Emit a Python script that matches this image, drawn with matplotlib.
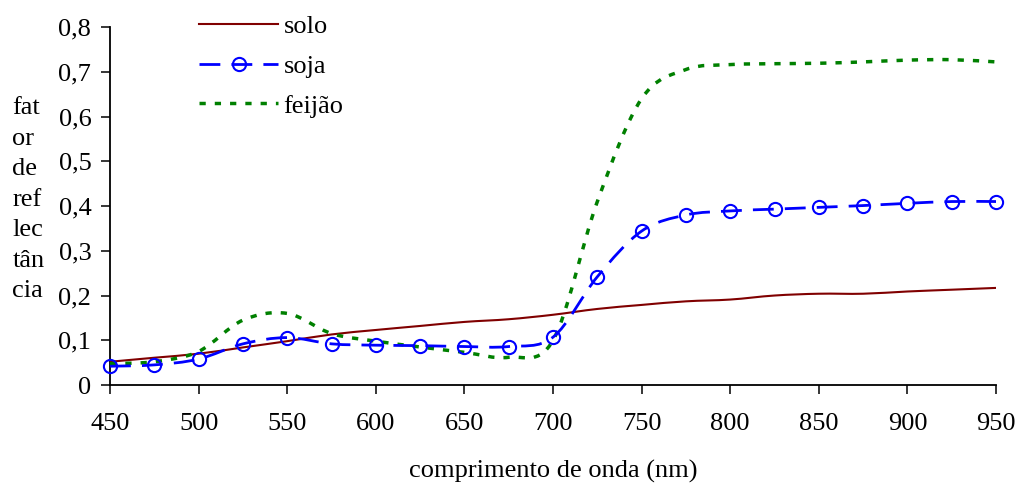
import numpy as np
import matplotlib
matplotlib.use("Agg")
import matplotlib.pyplot as plt
from matplotlib.path import Path
from matplotlib.patches import PathPatch
from matplotlib.lines import Line2D

# comprimento de onda (nm)
wl = [450, 475, 500, 525, 550, 575, 600, 625, 650, 675, 700, 725,
      750, 775, 800, 825, 850, 875, 900, 925, 950]

solo = [0.052, 0.061, 0.070, 0.084, 0.098, 0.113, 0.123, 0.132, 0.141, 0.147, 0.157, 0.170,
        0.179, 0.187, 0.191, 0.200, 0.204, 0.204, 0.209, 0.213, 0.217]
soja = [0.042, 0.045, 0.058, 0.092, 0.106, 0.092, 0.089, 0.088, 0.086, 0.086, 0.107, 0.242,
        0.344, 0.380, 0.389, 0.393, 0.397, 0.401, 0.406, 0.410, 0.410]
feijao = [0.048, 0.052, 0.075, 0.145, 0.160, 0.115, 0.098, 0.085, 0.073, 0.062, 0.100, 0.410,
          0.640, 0.705, 0.716, 0.718, 0.719, 0.722, 0.726, 0.727, 0.722]

xticks = [450, 500, 550, 600, 650, 700, 750, 800, 850, 900, 950]
yticks = [0, 0.1, 0.2, 0.3, 0.4, 0.5, 0.6, 0.7, 0.8]
ytick_labels = ["0", "0,1", "0,2", "0,3", "0,4", "0,5", "0,6", "0,7", "0,8"]

plt.rcParams["font.family"] = ["Liberation Serif", "DejaVu Serif"]
FS = 19


def smooth_path(x, y):
    # curva suavizada (bezier) como no excel
    p = np.column_stack([x, y]).astype(float)
    ext = np.vstack([p[0], p, p[-1]])
    verts = [p[0]]
    for i in range(len(p) - 1):
        a, b, c, d = ext[i], ext[i + 1], ext[i + 2], ext[i + 3]
        verts += [b + (c - a) / 6.0, c - (d - b) / 6.0, c]
    codes = [Path.MOVETO] + [Path.CURVE4] * (3 * (len(p) - 1))
    return Path(verts, codes)


fig = plt.figure(figsize=(10.17, 4.84), dpi=100)
ax = fig.add_axes([0.1082, 0.2045, 0.8712, 0.7397])

ax.set_xlim(450, 950)
ax.set_ylim(0, 0.8)

ax.add_patch(PathPatch(smooth_path(wl, solo), fill=False, edgecolor="#800000", lw=1.5, zorder=3))
ax.add_patch(PathPatch(smooth_path(wl, feijao), fill=False, edgecolor="#008000", lw=2.5,
                       linestyle=(0, (1.8, 2.6)), zorder=3))
ax.add_patch(PathPatch(smooth_path(wl, soja), fill=False, edgecolor="#0000FF", lw=2.0,
                       linestyle=(0, (7.5, 4)), zorder=4))
ax.plot(wl, soja, linestyle="none", marker="o", ms=9.5, mfc="none", mec="#0000FF",
        mew=1.5, clip_on=False, zorder=5)

handles = [
    Line2D([], [], color="#800000", lw=1.5),
    Line2D([], [], color="#0000FF", lw=2.0, linestyle=(0, (7.5, 4)), marker="o", ms=9.5,
           mfc="none", mec="#0000FF", mew=1.5),
    Line2D([], [], color="#008000", lw=2.5, linestyle=(0, (1.8, 2.6))),
]
fig.legend(handles, ["solo", "soja", "feijão"], loc="upper left",
           bbox_to_anchor=(0.1905, 0.981), frameon=False, fontsize=FS,
           handlelength=3.0, handletextpad=0.2, labelspacing=0.62, numpoints=1,
           borderaxespad=0, borderpad=0.2)

for s in ["top", "right"]:
    ax.spines[s].set_visible(False)
for s in ["left", "bottom"]:
    ax.spines[s].set_linewidth(1.3)

ax.set_xticks(xticks)
ax.set_yticks(yticks)
ax.set_yticklabels(ytick_labels)
ax.tick_params(axis="both", direction="out", length=6.5, width=1.1, labelsize=FS)
ax.tick_params(axis="y", pad=7)
ax.tick_params(axis="x", pad=14)

fig.text(0.012, 0.5868, "fat\nor\nde\nref\nlec\ntân\ncia", ha="left", va="center",
         fontsize=FS, linespacing=1.5)
fig.text(0.5437, 0.025, "comprimento de onda (nm)", ha="center", va="center", fontsize=FS)

fig.savefig("out.png", dpi=100)
